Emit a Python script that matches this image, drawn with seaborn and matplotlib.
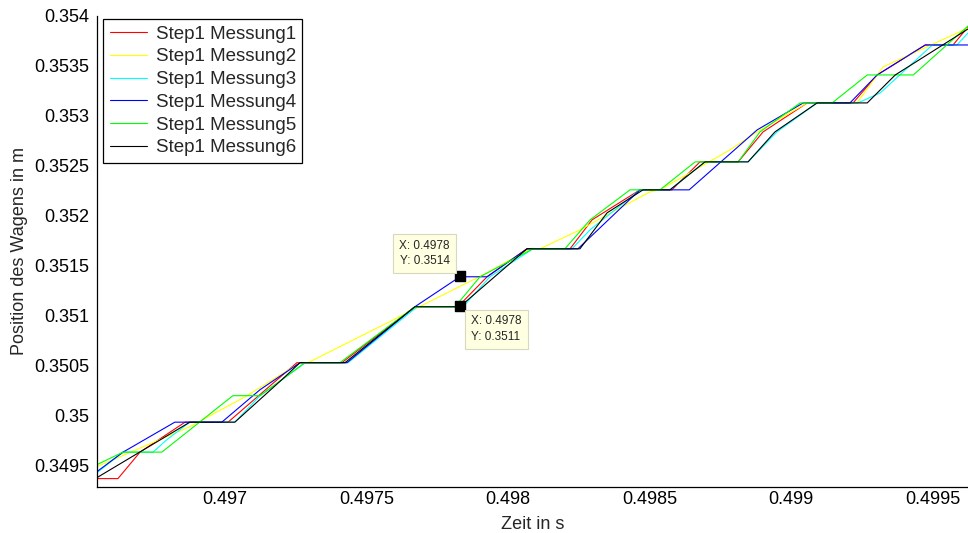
import numpy as np
import pandas as pd
import matplotlib
matplotlib.use("Agg")
import matplotlib.pyplot as plt
from matplotlib.ticker import FuncFormatter
import seaborn as sns

# ---- data (time in s, position in m) ----
labels = ["Step1 Messung1", "Step1 Messung2", "Step1 Messung3",
          "Step1 Messung4", "Step1 Messung5", "Step1 Messung6"]
colors = ["#ff0000", "#ffff00", "#00ffff", "#0000ff", "#00ff00", "#000000"]

t1 = [0.496547, 0.496621, 0.496699, 0.496858, 0.497010, 0.497253, 0.497412, 0.497536,
      0.497670, 0.497822, 0.497925, 0.498066, 0.498218, 0.498296, 0.498465, 0.498578,
      0.498677, 0.498812, 0.498900, 0.499056, 0.499218, 0.499303, 0.499473, 0.499571, 0.499624]
p1 = [0.349367, 0.349367, 0.349632, 0.349932, 0.349932, 0.350527, 0.350527, 0.350797,
      0.351087, 0.351087, 0.351387, 0.351667, 0.351667, 0.351957, 0.352257, 0.352257,
      0.352537, 0.352537, 0.352837, 0.353127, 0.353127, 0.353407, 0.353707, 0.353707, 0.353887]

t2 = [0.496547, 0.496875, 0.497077, 0.497264, 0.497292, 0.497925, 0.498077, 0.498112,
      0.498253, 0.498395, 0.498501, 0.498536, 0.498783, 0.498879, 0.499056, 0.499232,
      0.499324, 0.499624]
p2 = [0.349487, 0.349887, 0.350197, 0.350527, 0.350527, 0.351427, 0.351667, 0.351667,
      0.351857, 0.352077, 0.352237, 0.352257, 0.352657, 0.352837, 0.353127, 0.353127,
      0.353487, 0.353877]

t3 = [0.496547, 0.496639, 0.496745, 0.496794, 0.496875, 0.497034, 0.497123, 0.497282,
      0.497434, 0.497678, 0.497840, 0.497935, 0.498087, 0.498225, 0.498289, 0.498465,
      0.498571, 0.498695, 0.498847, 0.498949, 0.499091, 0.499235, 0.499314, 0.499498,
      0.499585, 0.499624]
p3 = [0.349427, 0.349632, 0.349632, 0.349757, 0.349932, 0.349932, 0.350197, 0.350527,
      0.350527, 0.351087, 0.351087, 0.351387, 0.351667, 0.351667, 0.351857, 0.352257,
      0.352257, 0.352537, 0.352537, 0.352837, 0.353127, 0.353127, 0.353227, 0.353707,
      0.353707, 0.353827]

t4 = [0.496547, 0.496639, 0.496822, 0.496988, 0.497123, 0.497264, 0.497430, 0.497670,
      0.497829, 0.497925, 0.498066, 0.498246, 0.498465, 0.498639, 0.498879, 0.499042,
      0.499207, 0.499303, 0.499473, 0.499624]
p4 = [0.349437, 0.349632, 0.349932, 0.349932, 0.350257, 0.350527, 0.350527, 0.351087,
      0.351387, 0.351387, 0.351667, 0.351667, 0.352257, 0.352257, 0.352857, 0.353127,
      0.353127, 0.353407, 0.353707, 0.353707]

t5 = [0.496547, 0.496639, 0.496776, 0.497027, 0.497123, 0.497282, 0.497405, 0.497670,
      0.497812, 0.497900, 0.498087, 0.498200, 0.498289, 0.498430, 0.498536, 0.498660,
      0.498812, 0.498889, 0.499031, 0.499144, 0.499268, 0.499431, 0.499624]
p5 = [0.349507, 0.349632, 0.349632, 0.350197, 0.350197, 0.350527, 0.350527, 0.351087,
      0.351087, 0.351387, 0.351667, 0.351667, 0.351957, 0.352257, 0.352257, 0.352537,
      0.352537, 0.352837, 0.353127, 0.353127, 0.353407, 0.353407, 0.353897]

t6 = [0.496547, 0.496875, 0.497034, 0.497200, 0.497264, 0.497423, 0.497670, 0.497829,
      0.498066, 0.498253, 0.498349, 0.498476, 0.498571, 0.498695, 0.498847, 0.498942,
      0.499091, 0.499268, 0.499367, 0.499624]
p6 = [0.349377, 0.349932, 0.349932, 0.350357, 0.350527, 0.350527, 0.351087, 0.351087,
      0.351667, 0.351667, 0.352027, 0.352257, 0.352257, 0.352537, 0.352537, 0.352837,
      0.353127, 0.353127, 0.353407, 0.353867]

times = [t1, t2, t3, t4, t5, t6]
positions = [p1, p2, p3, p4, p5, p6]

# data tips
tip_x = [0.49783, 0.49783]
tip_y = [0.35139, 0.35109]
tip_text = ["X: 0.4978\nY: 0.3514", "X: 0.4978\nY: 0.3511"]

x_ticks = [0.497, 0.4975, 0.498, 0.4985, 0.499, 0.4995]
y_ticks = [0.3495, 0.35, 0.3505, 0.351, 0.3515, 0.352, 0.3525, 0.353, 0.3535, 0.354]

frames = []
for lab, t, p in zip(labels, times, positions):
    frames.append(pd.DataFrame({"t": t, "p": p, "series": lab, "order": np.arange(len(t))}))
df = pd.concat(frames, ignore_index=True)

sns.set_style("white")
plt.rcParams["font.family"] = ["Liberation Sans", "DejaVu Sans"]

fig = plt.figure(figsize=(9.68, 5.33), dpi=100)
ax = fig.add_axes([97 / 968, 1 - 487 / 533, 871 / 968, (487 - 15.7) / 533])

sns.lineplot(data=df, x="t", y="p", hue="series", hue_order=labels,
             palette=dict(zip(labels, colors)), sort=False, estimator=None,
             units="series", linewidth=0.8, ax=ax, legend=True)

ax.set_xlim(0.496547, 0.499624)
ax.set_ylim(0.349283, 0.354)
ax.set_xticks(x_ticks)
ax.set_yticks(y_ticks)
fmt = FuncFormatter(lambda v, pos: "%g" % v)
ax.xaxis.set_major_formatter(fmt)
ax.yaxis.set_major_formatter(fmt)
ax.tick_params(direction="in", length=6, width=0.8, labelsize=13, colors="black",
               top=False, right=False)
ax.tick_params(axis="y", pad=5.5)
ax.tick_params(axis="x", pad=3)
for s in ["top", "right"]:
    ax.spines[s].set_visible(False)
for s in ["left", "bottom"]:
    ax.spines[s].set_color("black")
    ax.spines[s].set_linewidth(0.9)

ax.set_xlabel("Zeit in s", fontsize=13, labelpad=0)
ax.set_ylabel("Position des Wagens in m", fontsize=13)
ax.xaxis.set_label_coords(0.5, -0.062)
ax.yaxis.set_label_coords(-0.079, 0.5)

leg = ax.legend(loc="upper left", bbox_to_anchor=(0.007, 0.993), fontsize=13.5,
                frameon=True, fancybox=False, edgecolor="black", framealpha=1,
                handlelength=2.0, handletextpad=0.45, labelspacing=0.3,
                borderpad=0.35, borderaxespad=0.0)
leg.get_frame().set_linewidth(0.9)

# data tips
ax.scatter(tip_x, tip_y, marker="s", s=45, color="black", zorder=10)
ax.annotate(tip_text[0], (tip_x[0], tip_y[0]), xytext=(-7.5, 6.5), textcoords="offset points",
            fontsize=8.5, ha="right", va="bottom", zorder=11, linespacing=1.35,
            bbox=dict(boxstyle="square,pad=0.5", fc="#ffffe1", ec="#d8d8c0", lw=0.8))
ax.annotate(tip_text[1], (tip_x[1], tip_y[1]), xytext=(8, -6.5), textcoords="offset points",
            fontsize=8.5, ha="left", va="top", zorder=11, linespacing=1.35,
            bbox=dict(boxstyle="square,pad=0.5", fc="#ffffe1", ec="#d8d8c0", lw=0.8))

fig.savefig("out.png", dpi=100)
